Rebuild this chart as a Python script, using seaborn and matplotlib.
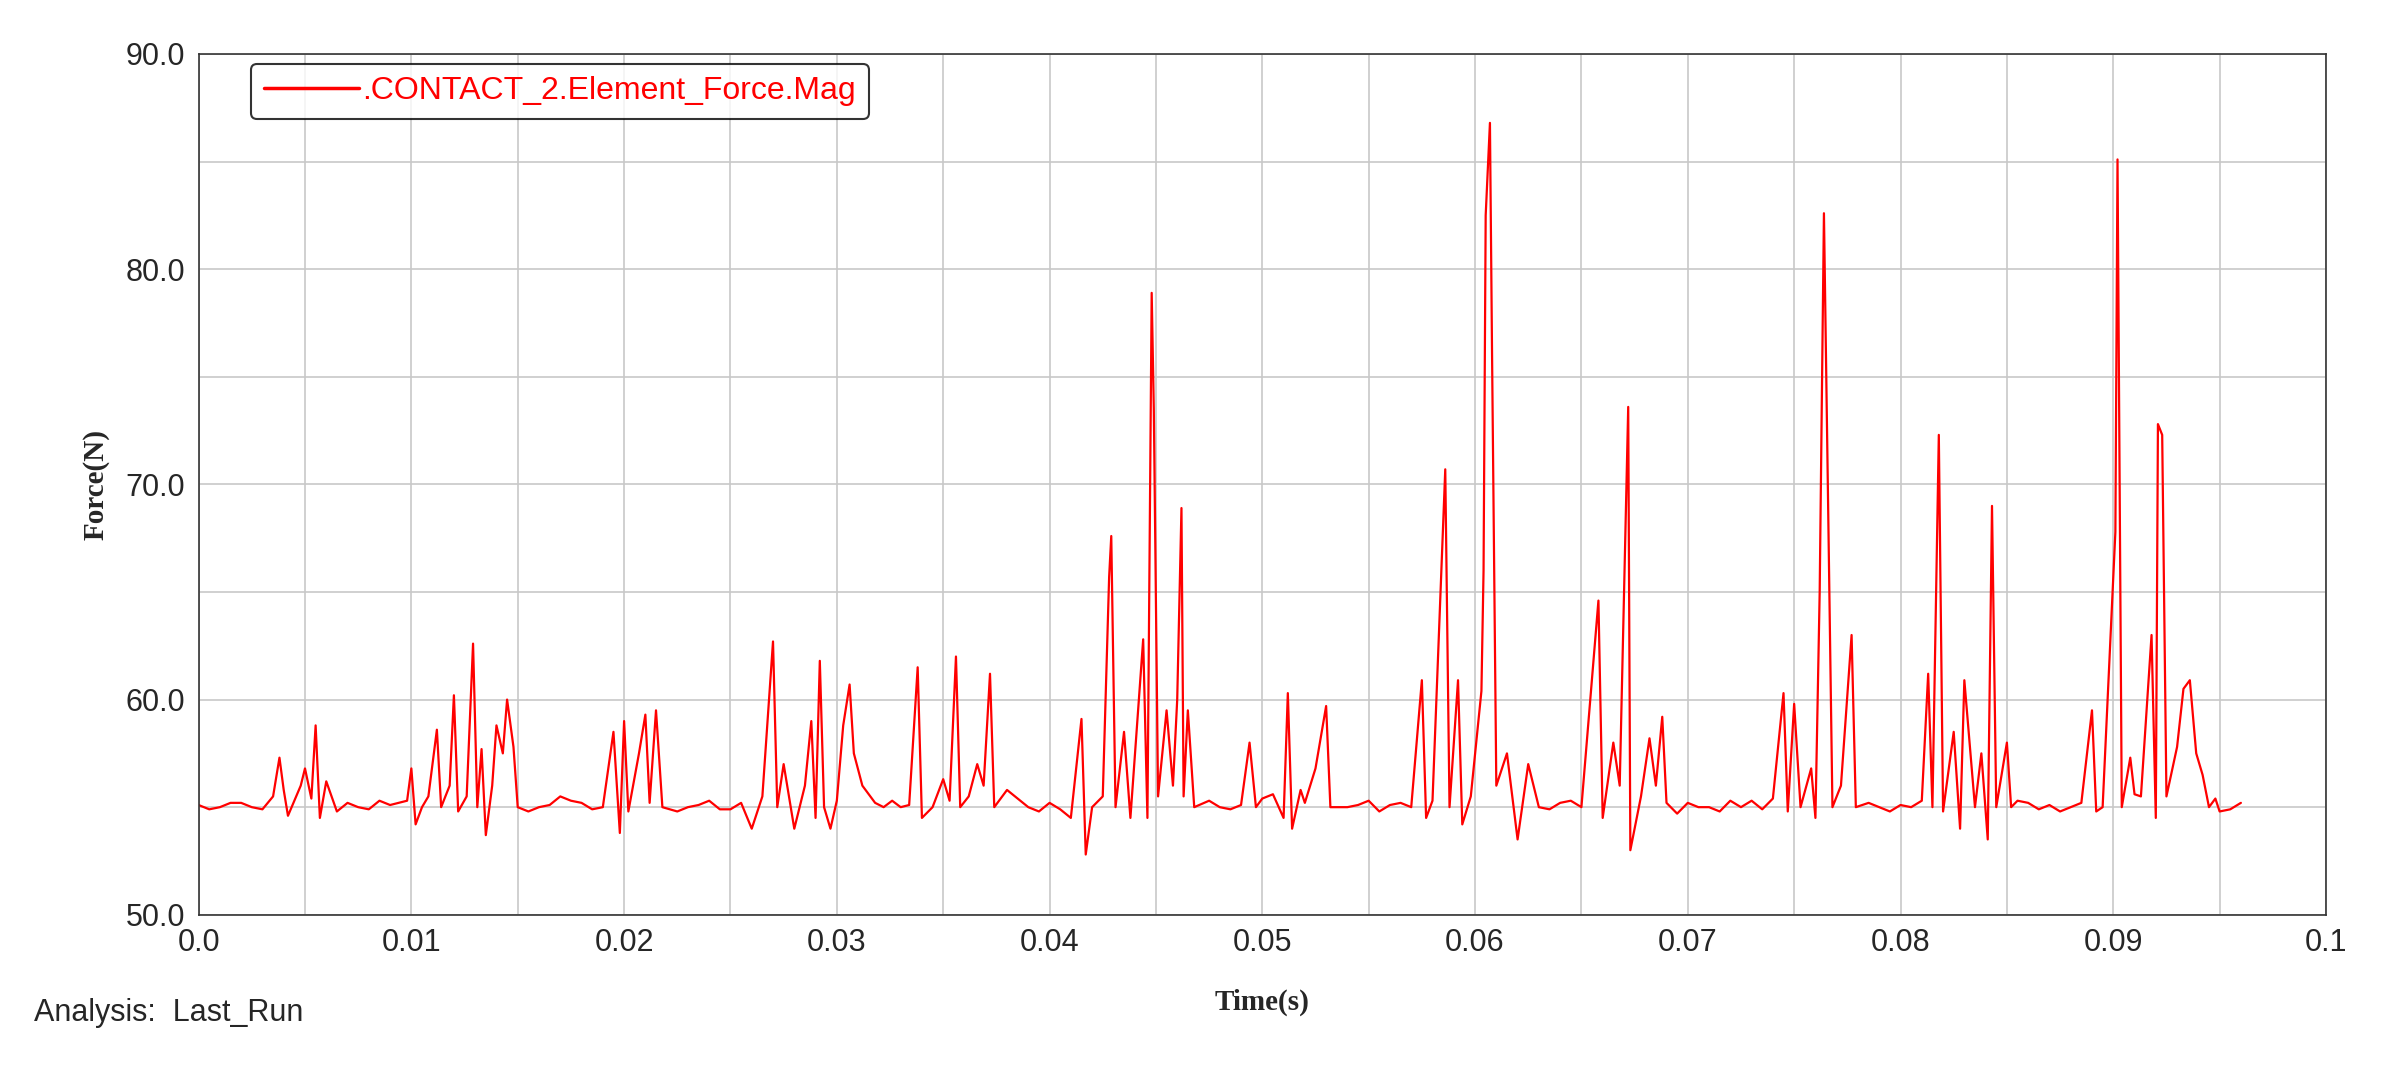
import matplotlib
matplotlib.use("Agg")
import matplotlib.pyplot as plt
import seaborn as sns
import pandas as pd
from matplotlib.ticker import MultipleLocator

time_s = [0.0,0.001,0.002,0.003,0.0035,0.0038,0.004,0.0042,0.0048,0.005,0.0053,0.0055,0.0057,0.006,0.0065,0.0075,0.009,0.0098,0.01,0.0102,0.0108,0.0112,0.0114,0.0118,0.012,0.0122,0.0126,0.0129,0.0131,0.0133,0.0135,0.0138,0.014,0.0143,0.0145,0.0148,0.015,0.016,0.0175,0.019,0.0195,0.0198,0.02,0.0202,0.0207,0.021,0.0212,0.0215,0.0218,0.023,0.025,0.026,0.0265,0.027,0.0272,0.0275,0.028,0.0285,0.0288,0.029,0.0292,0.0294,0.0297,0.03,0.0303,0.0306,0.0308,0.0312,0.0318,0.033,0.0338,0.034,0.0345,0.035,0.0353,0.0356,0.0358,0.0362,0.0366,0.0369,0.0372,0.0374,0.038,0.039,0.041,0.0415,0.0417,0.042,0.0425,0.0428,0.0429,0.0431,0.0435,0.0438,0.0444,0.0446,0.0448,0.0449,0.0451,0.0455,0.0458,0.046,0.0462,0.0463,0.0465,0.0468,0.048,0.0494,0.0497,0.05,0.051,0.0512,0.0514,0.0518,0.0525,0.053,0.0532,0.0545,0.057,0.0575,0.0577,0.058,0.0586,0.0588,0.0592,0.0594,0.0598,0.0603,0.0604,0.0605,0.0607,0.0608,0.061,0.0615,0.062,0.0625,0.063,0.064,0.065,0.0658,0.066,0.0665,0.0668,0.0672,0.0673,0.0678,0.0682,0.0685,0.0688,0.069,0.071,0.073,0.0745,0.0747,0.075,0.0753,0.0758,0.076,0.0762,0.0764,0.0766,0.0768,0.0772,0.0777,0.0779,0.079,0.081,0.0813,0.0815,0.0818,0.082,0.0825,0.0828,0.083,0.0835,0.0838,0.0841,0.0843,0.0845,0.085,0.0852,0.086,0.088,0.089,0.0892,0.0895,0.0901,0.0902,0.0904,0.0908,0.0913,0.0918,0.092,0.0921,0.0923,0.0925,0.093,0.0933,0.0936,0.0939,0.0942,0.0945,0.095,0.096]
force_n = [55.1,55.0,55.2,54.9,55.5,57.3,55.8,54.6,56.0,56.8,55.4,58.8,54.5,56.2,54.8,55.0,55.1,55.3,56.8,54.2,55.5,58.6,55.0,56.0,60.2,54.8,55.5,62.6,55.0,57.7,53.7,56.0,58.8,57.5,60.0,57.8,55.0,55.0,55.3,55.0,58.5,53.8,59.0,54.8,57.5,59.3,55.2,59.5,55.0,55.0,54.9,54.0,55.5,62.7,55.0,57.0,54.0,56.0,59.0,54.5,61.8,55.0,54.0,55.3,58.8,60.7,57.5,56.0,55.2,55.0,61.5,54.5,55.0,56.3,55.3,62.0,55.0,55.5,57.0,56.0,61.2,55.0,55.8,55.0,54.5,59.1,52.8,55.0,55.5,65.7,67.6,55.0,58.5,54.5,62.8,54.5,78.9,73.5,55.5,59.5,56.0,60.0,68.9,55.5,59.5,55.0,55.0,58.0,55.0,55.4,54.5,60.3,54.0,55.8,56.8,59.7,55.0,55.1,55.0,60.9,54.5,55.3,70.7,55.0,60.9,54.2,55.5,60.4,66.0,82.5,86.8,76.0,56.0,57.5,53.5,57.0,55.0,55.2,55.0,64.6,54.5,58.0,56.0,73.6,53.0,55.5,58.2,56.0,59.2,55.2,55.0,55.3,60.3,54.8,59.8,55.0,56.8,54.5,65.0,82.6,68.8,55.0,56.0,63.0,55.0,55.0,55.3,61.2,55.0,72.3,54.8,58.5,54.0,60.9,55.0,57.5,53.5,69.0,55.0,58.0,55.0,55.2,55.0,59.5,54.8,55.0,67.8,85.1,55.0,57.3,55.5,63.0,54.5,72.8,72.3,55.5,57.8,60.5,60.9,57.5,56.5,55.0,54.8,55.2]

# extra baseline wiggle points read from the quiet stretches
extra_time_s = [0.0005,0.0015,0.0025,0.007,0.008,0.0085,0.0105,0.0155,0.0165,0.017,0.018,0.0185,0.0225,0.0235,0.024,0.0245,0.0255,0.0315,0.0322,0.0326,0.0334,0.0385,0.0395,0.04,0.0405,0.0475,0.0485,0.049,0.0505,0.052,0.054,0.055,0.0555,0.056,0.0565,0.0635,0.0645,0.0695,0.07,0.0705,0.0715,0.072,0.0725,0.0735,0.074,0.0785,0.0795,0.08,0.0805,0.0855,0.0865,0.087,0.0875,0.0885,0.091,0.0948,0.0955]
extra_force_n = [54.9,55.2,55.0,55.2,54.9,55.3,55.0,54.8,55.1,55.5,55.2,54.9,54.8,55.1,55.3,54.9,55.2,55.6,55.0,55.3,55.1,55.4,54.8,55.2,54.9,55.3,54.9,55.1,55.6,55.2,55.0,55.3,54.8,55.1,55.2,54.9,55.3,54.7,55.2,55.0,54.8,55.3,55.0,54.9,55.4,55.2,54.8,55.1,55.0,55.3,54.9,55.1,54.8,55.2,55.6,55.4,54.9]

df = pd.DataFrame({"Time(s)": time_s + extra_time_s, "Force(N)": force_n + extra_force_n}).sort_values("Time(s)")

sns.set_style("white")
plt.rcParams['font.family'] = ['Liberation Sans', 'DejaVu Sans']

fig = plt.figure(figsize=(23.93, 10.8), dpi=100)
ax = fig.add_axes([0.083, 0.153, 0.889, 0.797])
sns.lineplot(data=df, x="Time(s)", y="Force(N)", color="#ff0000", lw=1.6, ax=ax,
             label=".CONTACT_2.Element_Force.Mag", sort=False)
ax.set_xlim(0, 0.1)
ax.set_ylim(50, 90)
ax.set_xticks([i/100 for i in range(11)])
ax.set_xticklabels(["0.0"] + [f"{i/100:g}" for i in range(1, 11)])
ax.xaxis.set_minor_locator(MultipleLocator(0.005))
ax.set_yticks([50, 60, 70, 80, 90])
ax.set_yticklabels(["50.0", "60.0", "70.0", "80.0", "90.0"])
ax.yaxis.set_minor_locator(MultipleLocator(5))
ax.grid(which="both", color="#c8c8c8", lw=1.2)
ax.tick_params(which="major", direction="out", length=6, labelsize=22, color="black")
for s in ax.spines.values():
    s.set_color("#333333"); s.set_linewidth(1.2)
ax.set_xlabel("Time(s)", family="Liberation Serif", weight="bold", fontsize=21, labelpad=22)
ax.set_ylabel("Force(N)", family="Liberation Serif", weight="bold", fontsize=21, labelpad=12)
leg = ax.legend(loc="upper left", bbox_to_anchor=(0.02, 1.0), fontsize=23, frameon=True,
                fancybox=True, edgecolor="black", handlelength=3.0, handletextpad=0.1,
                borderaxespad=0.3)
leg.get_frame().set_linewidth(1.5)
for line in leg.get_lines():
    line.set_linewidth(2.5)
for t in leg.get_texts():
    t.set_color("#ff0000")
fig.text(0.014, 0.055, "Analysis:  Last_Run", fontsize=22)
fig.savefig("out.png", dpi=100, facecolor="white")
